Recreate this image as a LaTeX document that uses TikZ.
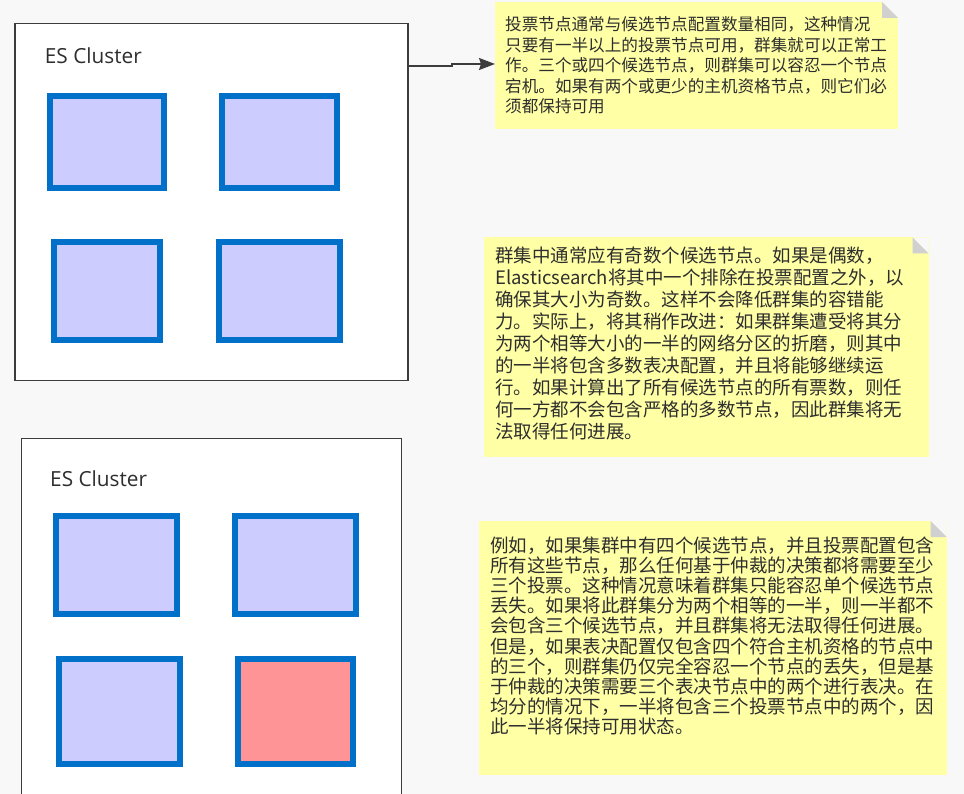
\documentclass[tikz,border=0pt]{standalone}
\usepackage{fontspec}
\newfontfamily\cjkfont{Noto Sans CJK SC}
\newfontfamily\labfont{Open Sans}
\usetikzlibrary{arrows.meta}
\definecolor{bgc}{HTML}{F8F8F8}
\definecolor{framegray}{HTML}{3C3C3C}
\definecolor{txtgray}{HTML}{2E2E2E}
\definecolor{nodeblue}{HTML}{0070C8}
\definecolor{nodefill}{HTML}{CCCCFF}
\definecolor{nodered}{HTML}{FF9496}
\definecolor{noteyellow}{HTML}{FFFFA6}
\definecolor{foldgray}{HTML}{D0D0D0}
\begin{document}
\begin{tikzpicture}[x=1pt,y=-1pt,
  cluster/.style={draw=framegray, line width=1.6pt, fill=white, anchor=north west, inner sep=0pt, outer sep=0pt},
  esnode/.style={draw=nodeblue, line width=6pt, fill=nodefill, anchor=north west, inner sep=0pt, outer sep=0pt},
  cltitle/.style={anchor=base west, inner sep=0pt, text=txtgray, font=\labfont\fontsize{20.8}{24}\selectfont},
  note/.style={anchor=north west, inner sep=0pt, outer sep=0pt, fill=noteyellow,
    path picture={
      \fill[bgc] (path picture bounding box.north east) -- ++(-16pt,0pt) -- ++(16pt,-16pt) -- cycle;
      \fill[foldgray] ([xshift=-16pt]path picture bounding box.north east) -- ++(0pt,-16pt) -- ++(16pt,0pt) -- cycle;
    }},
  notetext/.style={anchor=base west, inner sep=0pt, text width=480pt, align=left, text=txtgray},
  conn/.style={draw=framegray, line width=1.5pt, -{Stealth[length=16pt,width=12pt,inset=2pt]}}
]
\useasboundingbox (0,0) rectangle (964,794);
\fill[bgc] (0,0) rectangle (964,794);

% cluster 1
\node[cluster, minimum width=393pt, minimum height=357pt] (c1) at (14.8,23.5) {};
\node[cltitle] (l1) at (44.7,64) {ES Cluster};
\node[esnode, minimum width=114.6pt, minimum height=92pt] (a1) at (49.7,96.3) {};
\node[esnode, minimum width=114.7pt, minimum height=92pt] (b1) at (222,96.3) {};
\node[esnode, minimum width=106.3pt, minimum height=98pt] (d1) at (53.7,241.7) {};
\node[esnode, minimum width=120.7pt, minimum height=98pt] (e1) at (219,241.7) {};

% cluster 2
\node[cluster, minimum width=380pt, minimum height=380pt] (c2) at (21.3,438.3) {};
\node[cltitle] (l2) at (50,486.7) {ES Cluster};
\node[esnode, minimum width=120.7pt, minimum height=98pt] (a2) at (56.3,515.7) {};
\node[esnode, minimum width=120.7pt, minimum height=98pt] (b2) at (235,515.7) {};
\node[esnode, minimum width=121pt, minimum height=105pt] (d2) at (58.7,659) {};
\node[esnode, fill=nodered, minimum width=115pt, minimum height=105pt] (e2) at (237.7,659) {};

% notes
\node[note, minimum width=403pt, minimum height=127pt] (n1) at (495,2) {};
\node[note, minimum width=444.5pt, minimum height=219.5pt] (n2) at (484,237.3) {};
\node[note, minimum width=467.5pt, minimum height=254pt] (n3) at (479,521) {};

\node[notetext, font=\cjkfont\fontsize{16.6}{20.4}\selectfont] (t1) at (505,31) {投票节点通常与候选节点配置数量相同，这种情况\\
只要有一半以上的投票节点可用，群集就可以正常工\\
作。三个或四个候选节点，则群集可以容忍一个节点\\
宕机。如果有两个或更少的主机资格节点，则它们必\\
须都保持可用};

\node[notetext, font=\cjkfont\fontsize{18.5}{21.9}\selectfont] (t2) at (495,263) {群集中通常应有奇数个候选节点。如果是偶数，\\
Elasticsearch将其中一个排除在投票配置之外，以\\
确保其大小为奇数。这样不会降低群集的容错能\\
力。实际上，将其稍作改进：如果群集遭受将其分\\
为两个相等大小的一半的网络分区的折磨，则其中\\
的一半将包含多数表决配置，并且将能够继续运\\
行。如果计算出了所有候选节点的所有票数，则任\\
何一方都不会包含严格的多数节点，因此群集将无\\
法取得任何进展。};

\node[notetext, font=\cjkfont\fontsize{18.5}{20.2}\selectfont] (t3) at (490,552) {例如，如果集群中有四个候选节点，并且投票配置包含\\
所有这些节点，那么任何基于仲裁的决策都将需要至少\\
三个投票。这种情况意味着群集只能容忍单个候选节点\\
丢失。如果将此群集分为两个相等的一半，则一半都不\\
会包含三个候选节点，并且群集将无法取得任何进展。\\
但是，如果表决配置仅包含四个符合主机资格的节点中\\
的三个，则群集仍仅完全容忍一个节点的丢失，但是基\\
于仲裁的决策需要三个表决节点中的两个进行表决。在\\
均分的情况下，一半将包含三个投票节点中的两个，因\\
此一半将保持可用状态。};

% connector
\draw[conn] (c1.east |- 0,66) -- (452,66) -- (452,64) -- (n1.west |- 0,64);
\end{tikzpicture}
\end{document}
